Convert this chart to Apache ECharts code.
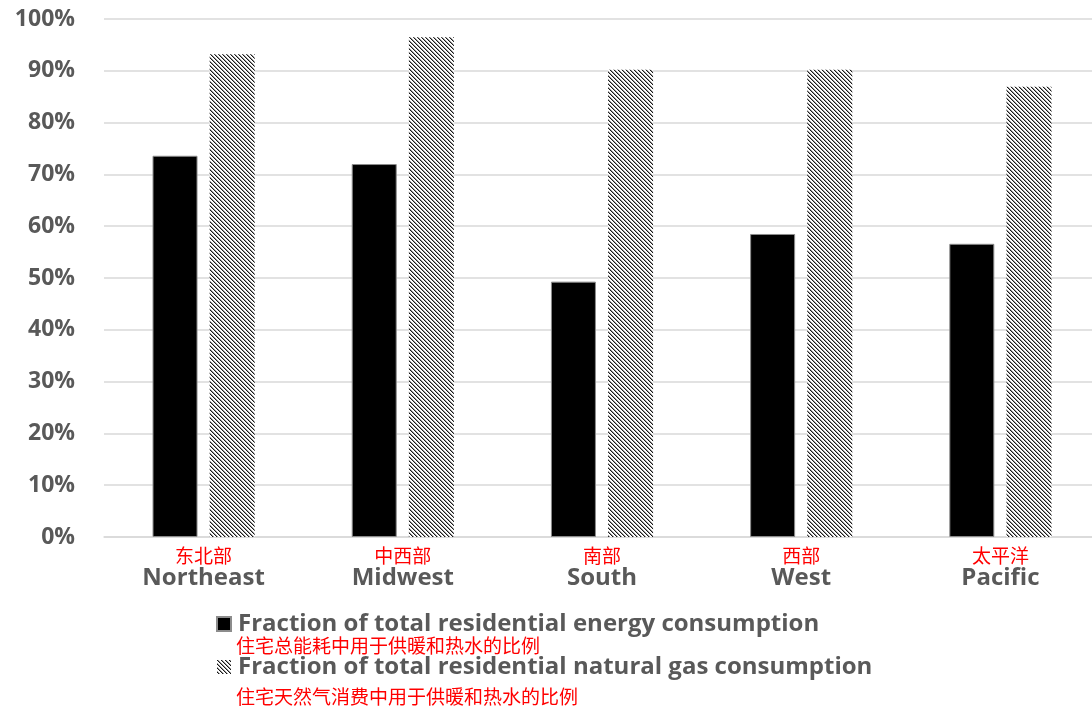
<!DOCTYPE html>
<html>
<head>
<meta charset="utf-8">
<script src="https://cdn.jsdelivr.net/npm/echarts@6/dist/echarts.min.js"></script>
<style>
  html, body { margin: 0; padding: 0; background: #fff; overflow: hidden; }
  #chart { width: 1100px; height: 708px; }
</style>
</head>
<body>
<div id="chart"></div>
<script>
// Regions (English name + Chinese name)
const regionsEn = ['Northeast', 'Midwest', 'South', 'West', 'Pacific'];
const regionsCn = ['东北部', '中西部', '南部', '西部', '太平洋'];

// Share of space heating + hot water, in percent
const energyShare = [73.6, 72.0, 49.3, 58.5, 56.6];
const gasShare = [93.2, 96.5, 90.2, 90.2, 86.9];

const seriesNamesEn = [
  'Fraction of total residential energy consumption',
  'Fraction of total residential natural gas consumption'
];
const seriesNamesCn = [
  '住宅总能耗中用于供暖和热水的比例',
  '住宅天然气消费中用于供暖和热水的比例'
];

const yTicks = { min: 0, max: 100, interval: 10 };

const LATIN = '"Open Sans", Lato, sans-serif';
const CJK = '"Noto Sans CJK SC", sans-serif';
const GREY = '#595959';
const RED = '#ff0000';

// Diagonal hatch fill ("\\\\" direction) for the natural gas bars
function makeHatch() {
  const c = document.createElement('canvas');
  c.width = 4; c.height = 4;
  const ctx = c.getContext('2d');
  ctx.fillStyle = '#ffffff';
  ctx.fillRect(0, 0, 4, 4);
  for (let i = 0; i < 4; i++) {
    ctx.fillStyle = '#1a1a1a';
    ctx.fillRect(i, i, 1, 1);
    ctx.fillStyle = '#9a9a9a';
    ctx.fillRect((i + 1) % 4, i, 1, 1);
  }
  return c;
}
const hatch = { image: makeHatch(), repeat: 'repeat' };

const chart = echarts.init(document.getElementById('chart'), null, { renderer: 'canvas' });

chart.setOption({
  backgroundColor: '#ffffff',
  animation: false,
  grid: { left: 104, right: 0, top: 19, bottom: 171, containLabel: false },
  legend: {
    orient: 'vertical',
    left: 211,
    top: 606,
    itemWidth: 14,
    itemHeight: 14,
    itemGap: 17,
    icon: 'rect',
    data: seriesNamesEn,
    textStyle: {
      fontFamily: LATIN,
      fontWeight: 'bold',
      fontSize: 24,
      lineHeight: 26,
      color: GREY,
      padding: [0, 0, 0, 2]
    }
  },
  graphic: seriesNamesCn.map((t, i) => ({
    type: 'text',
    left: 236,
    top: i === 0 ? 636 : 687,
    style: { text: t, fill: RED, font: '19px ' + CJK }
  })),
  xAxis: {
    type: 'category',
    data: regionsEn,
    axisLine: { show: true, lineStyle: { color: '#d9d9d9', width: 1.5 } },
    axisTick: { show: false },
    axisLabel: {
      margin: 8,
      interval: 0,
      formatter: (v, idx) => '{cn|' + regionsCn[idx] + '}\n{en|' + v + '}',
      rich: {
        cn: { fontFamily: CJK, fontSize: 19, color: RED, lineHeight: 21 },
        en: { fontFamily: LATIN, fontWeight: 'bold', fontSize: 24, color: GREY, lineHeight: 25 }
      }
    }
  },
  yAxis: {
    type: 'value',
    min: yTicks.min,
    max: yTicks.max,
    interval: yTicks.interval,
    axisLine: { show: false },
    axisTick: { show: false },
    splitLine: { lineStyle: { color: '#d9d9d9', width: 1.5 } },
    axisLabel: {
      margin: 29,
      formatter: '{value}%',
      fontFamily: LATIN,
      fontWeight: 'bold',
      fontSize: 23,
      color: GREY
    }
  },
  series: [
    {
      name: seriesNamesEn[0],
      type: 'bar',
      data: energyShare,
      barWidth: 45,
      barGap: '27%',
      itemStyle: { color: '#000000', borderColor: '#8c8c8c', borderWidth: 1 }
    },
    {
      name: seriesNamesEn[1],
      type: 'bar',
      data: gasShare,
      barWidth: 45,
      itemStyle: { color: hatch }
    }
  ]
});
</script>
</body>
</html>
